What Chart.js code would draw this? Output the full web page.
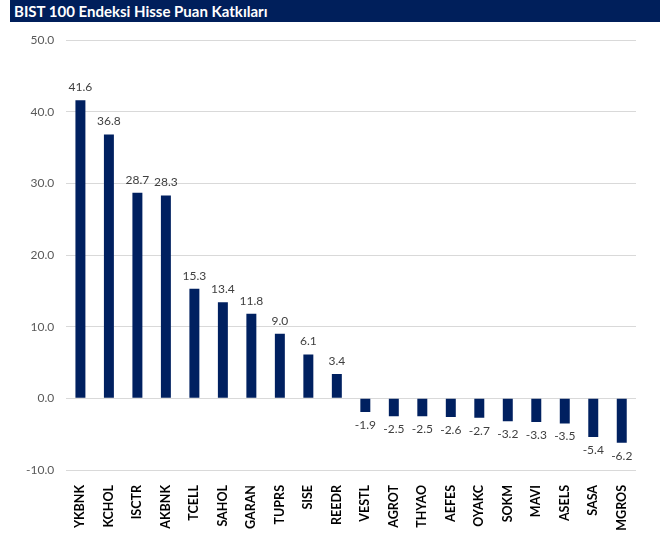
<!DOCTYPE html>
<html>
<head>
<meta charset="utf-8">
<script src="https://cdn.jsdelivr.net/npm/chart.js@4"></script>
<style>
  html, body { margin: 0; padding: 0; background: #fff; }
  #wrap { position: relative; width: 660px; height: 534px; }
  #title {
    position: absolute; left: 10px; top: 0; width: 650px; height: 22px;
    background: #001f5b; color: #fff; font: bold 15px Lato, sans-serif;
    line-height: 22px; padding-left: 4px; box-sizing: border-box;
  }
  canvas { position: absolute; left: 0; top: 0; }
</style>
</head>
<body>
<div id="wrap">
  <canvas id="chart" width="660" height="534"></canvas>
  <div id="title">BIST 100 Endeksi Hisse Puan Katkıları</div>
</div>
<script>
const stocks = ['YKBNK', 'KCHOL', 'ISCTR', 'AKBNK', 'TCELL', 'SAHOL', 'GARAN', 'TUPRS', 'SISE', 'REEDR',
  'VESTL', 'AGROT', 'THYAO', 'AEFES', 'OYAKC', 'SOKM', 'MAVI', 'ASELS', 'SASA', 'MGROS'];
const points = [41.6, 36.8, 28.7, 28.3, 15.3, 13.4, 11.8, 9.0, 6.1, 3.4,
  -1.9, -2.5, -2.5, -2.6, -2.7, -3.2, -3.3, -3.5, -5.4, -6.2];
const yMin = -10;
const yMax = 50;
const yStep = 10;

// value labels over / under each bar
const barLabels = {
  id: 'barLabels',
  afterDatasetsDraw(chart) {
    const ctx = chart.ctx;
    const meta = chart.getDatasetMeta(0);
    ctx.save();
    ctx.font = '12px Lato, sans-serif';
    ctx.fillStyle = '#404040';
    ctx.textAlign = 'center';
    meta.data.forEach((bar, i) => {
      const v = points[i];
      if (v >= 0) {
        ctx.textBaseline = 'bottom';
        ctx.fillText(v.toFixed(1), bar.x, bar.y - 7);
      } else {
        ctx.textBaseline = 'top';
        ctx.fillText(v.toFixed(1), bar.x, bar.y + 7);
      }
    });
    ctx.restore();
  }
};

new Chart(document.getElementById('chart'), {
  type: 'bar',
  data: {
    labels: stocks,
    datasets: [{
      data: points,
      backgroundColor: '#002060',
      barPercentage: 0.7,
      categoryPercentage: 0.5
    }]
  },
  options: {
    responsive: false,
    animation: false,
    layout: { padding: { top: 40, right: 24, bottom: 0, left: 14 } },
    plugins: {
      legend: { display: false },
      tooltip: { enabled: false }
    },
    scales: {
      x: {
        grid: { display: false },
        border: { display: false },
        afterFit: s => { s.height = 64; },
        ticks: {
          minRotation: 90, maxRotation: 90, autoSkip: false,
          color: '#000', font: { family: 'Lato', size: 12.5, weight: 'bold' },
          padding: 7
        }
      },
      y: {
        min: yMin, max: yMax,
        grid: { color: '#d9d9d9', drawTicks: false },
        border: { display: false },
        ticks: {
          stepSize: yStep, padding: 12,
          color: '#595959', font: { family: 'Lato', size: 12 },
          callback: v => v.toFixed(1)
        }
      }
    }
  },
  plugins: [barLabels]
});
</script>
</body>
</html>
